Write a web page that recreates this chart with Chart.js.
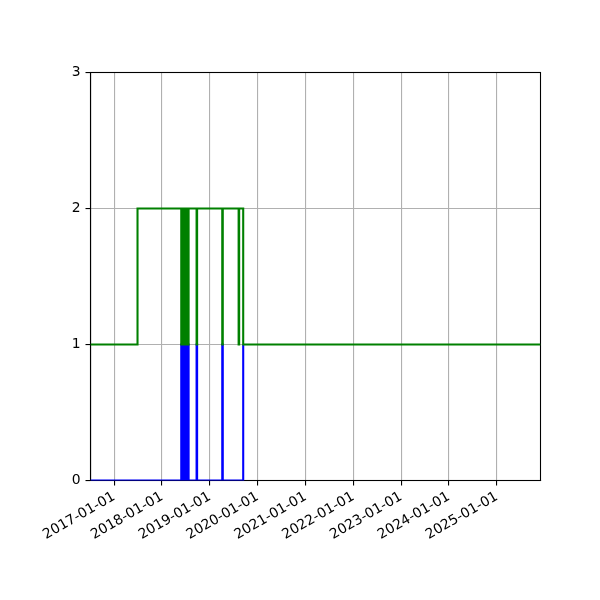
<!DOCTYPE html>
<html>
<head>
<meta charset="utf-8">
<script src="https://cdn.jsdelivr.net/npm/chart.js@4.4.1/dist/chart.umd.min.js"></script>
<style>
html,body{margin:0;padding:0;background:#fff;}
canvas{display:block;}
</style>
</head>
<body>
<canvas id="c" width="600" height="600"></canvas>
<script>
// ---- data (value holds until next date) ----
const greenDates = [
  "2016-07-04","2017-06-28",
  "2018-05-28","2018-06-01","2018-06-04","2018-06-08","2018-06-11","2018-06-15",
  "2018-06-18","2018-06-22","2018-06-26","2018-06-30","2018-07-03","2018-07-07",
  "2018-07-10","2018-07-14","2018-07-18","2018-07-23",
  "2018-09-22","2018-09-26",
  "2019-04-06","2019-04-10",
  "2019-08-09","2019-08-13",
  "2019-09-13","2025-11-30"
];
const greenValues = [
  1,2,
  1,2,1,2,1,2,
  1,2,1,2,1,2,
  1,2,1,2,
  1,2,
  1,2,
  1,2,
  1,1
];
const blueDates = [
  "2016-07-04",
  "2018-05-28","2018-06-01","2018-06-04","2018-06-08","2018-06-11","2018-06-15",
  "2018-06-18","2018-06-22","2018-06-26","2018-06-30","2018-07-03","2018-07-07",
  "2018-07-10","2018-07-14","2018-07-18","2018-07-23",
  "2018-09-22","2018-09-26",
  "2019-04-06","2019-04-10",
  "2019-09-13"
];
const blueValues = [
  0,
  1,0,1,0,1,0,
  1,0,1,0,1,0,
  1,0,1,0,
  1,0,
  1,0,
  1
];
const xTickLabels = ["2017-01-01","2018-01-01","2019-01-01","2020-01-01","2021-01-01",
  "2022-01-01","2023-01-01","2024-01-01","2025-01-01"];
const yTicks = [0,1,2,3];
const xMinDate = "2016-07-04";
const xMaxDate = "2025-11-30";

const ms = d => Date.parse(d + "T00:00:00Z");
const toPts = (ds, vs) => ds.map((d,i) => ({x: ms(d), y: vs[i]}));
const fmt = v => new Date(v).toISOString().slice(0,10);

const frame = {
  id: 'frame',
  beforeDatasetsDraw(chart){
    const a = chart.chartArea, ctx = chart.ctx;
    ctx.save();
    ctx.strokeStyle = '#000';
    ctx.lineWidth = 1.1;
    ctx.strokeRect(a.left, a.top, a.right - a.left, a.bottom - a.top);
    ctx.restore();
  }
};

const font = {family: "'DejaVu Sans'", size: 13.9};

new Chart(document.getElementById('c'), {
  type: 'line',
  data: {
    datasets: [
      {data: toPts(greenDates, greenValues), borderColor: '#008000', borderWidth: 2.08,
       stepped: 'before', pointRadius: 0, fill: false},
      {data: toPts(blueDates, blueValues), borderColor: '#0000ff', borderWidth: 2.08,
       stepped: 'before', pointRadius: 0, fill: false}
    ]
  },
  options: {
    responsive: false,
    animation: false,
    events: [],
    layout: {padding: {left: 0, right: 59.5, top: 72.5, bottom: 0}},
    plugins: {legend: {display: false}, tooltip: {enabled: false}},
    scales: {
      x: {
        type: 'linear',
        min: ms(xMinDate), max: ms(xMaxDate),
        afterBuildTicks: s => { s.ticks = xTickLabels.map(l => ({value: ms(l)})); },
        afterFit: s => { s.height = 119.5; },
        ticks: {
          autoSkip: false, minRotation: 30, maxRotation: 30, padding: 3,
          color: '#000', font: font,
          callback: v => fmt(v)
        },
        grid: {color: '#b0b0b0', lineWidth: 1.1, tickColor: '#000', tickLength: 5, tickWidth: 1.1},
        border: {display: true, color: '#000', width: 1.1}
      },
      y: {
        type: 'linear', min: 0, max: 3,
        afterBuildTicks: s => { s.ticks = yTicks.map(v => ({value: v})); },
        afterFit: s => { s.width = 90.5; },
        ticks: {padding: 5, color: '#000', font: font, callback: v => String(v)},
        grid: {color: '#b0b0b0', lineWidth: 1.1, tickColor: '#000', tickLength: 5, tickWidth: 1.1},
        border: {display: true, color: '#000', width: 1.1}
      }
    }
  },
  plugins: [frame]
});
</script>
</body>
</html>
